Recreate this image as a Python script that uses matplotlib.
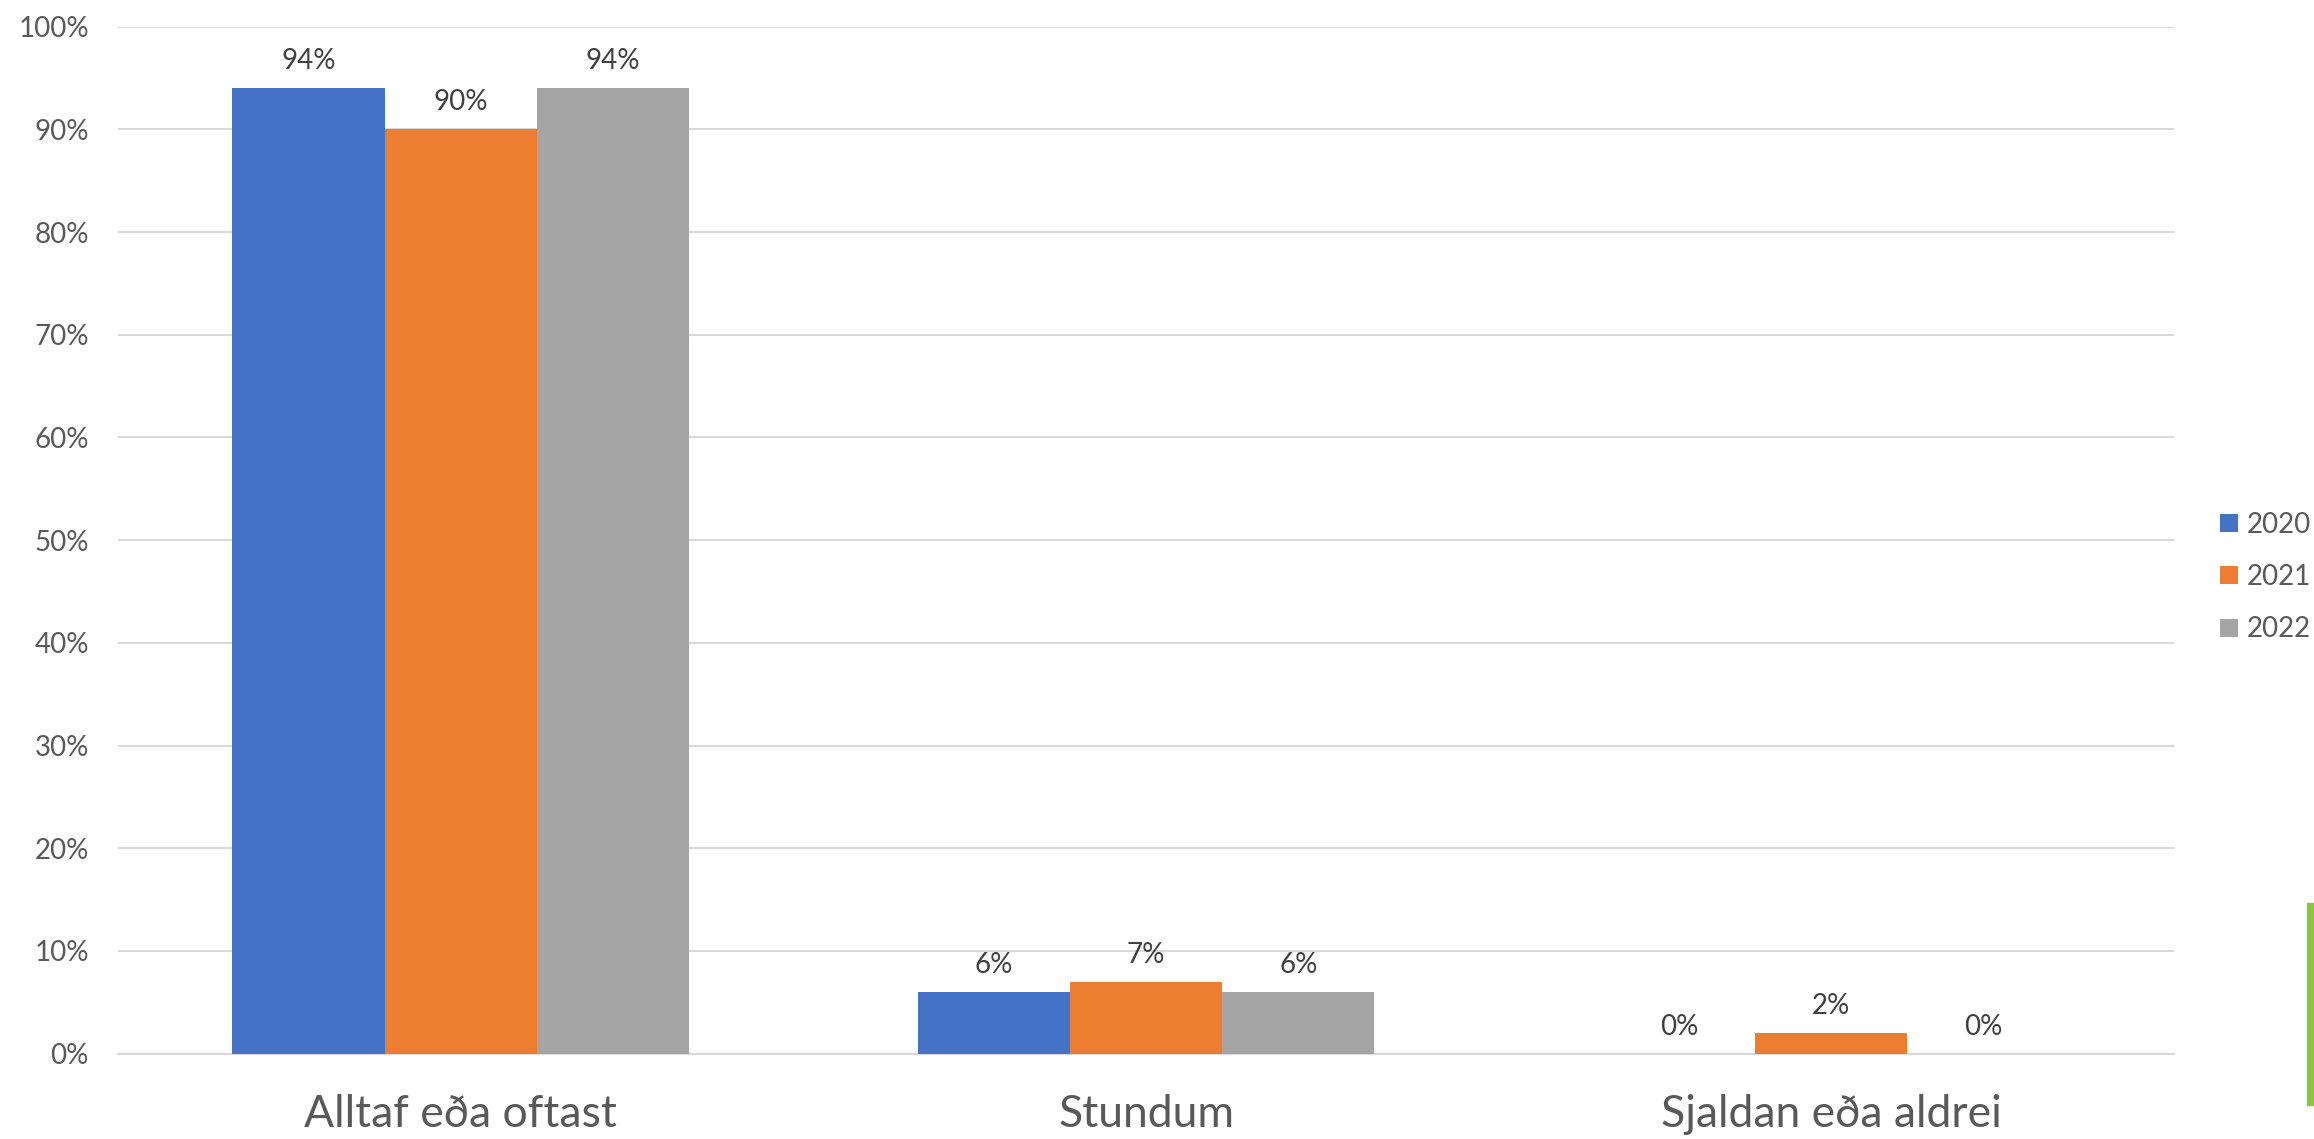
import matplotlib
matplotlib.use("Agg")
import matplotlib.pyplot as plt
import numpy as np
from matplotlib.patches import Rectangle

categories = ["Alltaf eða oftast", "Stundum", "Sjaldan eða aldrei"]
series_names = ["2020", "2021", "2022"]
values_2020 = [94, 6, 0]
values_2021 = [90, 7, 2]
values_2022 = [94, 6, 0]
yticks = [0, 10, 20, 30, 40, 50, 60, 70, 80, 90, 100]
colors = ["#4472C4", "#ED7D31", "#A5A5A5"]

plt.rcParams['font.family'] = ['Lato', 'DejaVu Sans']

fig = plt.figure(figsize=(23.14, 11.39), dpi=100)
ax = fig.add_axes([0.051, 0.0749, 0.8885, 0.9017])

x = np.arange(len(categories))
w = 1 / 4.5
series = [values_2020, values_2021, values_2022]
for i, (name, vals, c) in enumerate(zip(series_names, series, colors)):
    pos = x + (i - 1) * w
    bars = ax.bar(pos, vals, width=w, color=c, label=name, zorder=3)
    for xp, v in zip(pos, vals):
        ax.annotate(f"{v}%", (xp, v), xytext=(0, 10), textcoords="offset points",
                    ha="center", va="bottom", fontsize=20, color="#404040")

ax.set_xlim(-0.5, 2.5)
ax.set_ylim(0, 100)
ax.set_yticks(yticks)
ax.set_yticklabels([f"{t}%" for t in yticks])
ax.set_xticks(x)
ax.set_xticklabels(categories)
ax.tick_params(axis="y", length=0, pad=21, labelsize=20, labelcolor="#595959")
ax.tick_params(axis="x", length=0, pad=29, labelsize=32, labelcolor="#595959")
ax.grid(axis="y", color="#D9D9D9", linewidth=1.5, zorder=0)
for s in ["top", "right", "left"]:
    ax.spines[s].set_visible(False)
ax.spines["bottom"].set_color("#D9D9D9")
ax.spines["bottom"].set_linewidth(1.5)

leg = fig.legend(loc="center left", bbox_to_anchor=(0.9595, 1 - 577 / 1139),
                 frameon=False, fontsize=20, handlelength=0.62, handleheight=0.62,
                 handletextpad=0.35, labelspacing=0.95, borderpad=0, borderaxespad=0)
for t in leg.get_texts():
    t.set_color("#595959")

fig.patches.append(Rectangle((2307 / 2314, 1 - 1105 / 1139), 10 / 2314, 202 / 1139,
                             transform=fig.transFigure, color="#8DC63F", zorder=5))

fig.savefig("out.png", dpi=100)
